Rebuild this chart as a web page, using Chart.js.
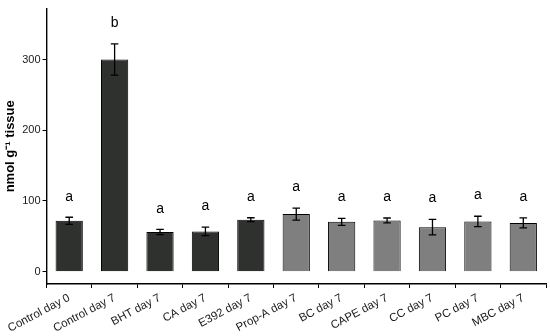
<!DOCTYPE html>
<html><head><meta charset="utf-8">
<script src="https://cdn.jsdelivr.net/npm/chart.js@4/dist/chart.umd.min.js"></script>
<style>html,body{margin:0;padding:0;background:#fff;}canvas{display:block;}</style>
</head><body>
<canvas id="c" width="550" height="336"></canvas>
<script>
const categories = ["Control day 0","Control day 7","BHT day 7","CA day 7","E392 day 7","Prop-A day 7","BC day 7","CAPE day 7","CC day 7","PC day 7","MBC day 7"];
const means = [72, 300, 56, 57, 73.5, 81.5, 70.5, 72.5, 63, 71, 69];
const errors = [5, 22, 3.7, 6, 2.8, 8.5, 5, 3.4, 11, 7.4, 7];
const letters = ["a","b","a","a","a","a","a","a","a","a","a"];
const letterPos = [106, 352, 89, 92, 106, 119, 105, 106, 104, 108, 106];
const groups = ["control","control","dark","dark","dark","light","light","light","light","light","light"];
const yTicks = [0, 100, 200, 300];

const groupColor = {control:"#2f312f", dark:"#2f312f", light:"#7f7f7f"};

const overlay = {
  id: "overlay",
  afterDatasetsDraw(chart) {
    const ctx = chart.ctx, x = chart.scales.x, y = chart.scales.y;
    ctx.save();
    ctx.strokeStyle = "#000"; ctx.lineWidth = 1.3;
    means.forEach((m, i) => {
      const px = x.getPixelForValue(i);
      const t = y.getPixelForValue(m + errors[i]), b = y.getPixelForValue(m - errors[i]);
      ctx.beginPath();
      ctx.moveTo(px, t); ctx.lineTo(px, b);
      ctx.moveTo(px - 3.8, t); ctx.lineTo(px + 3.8, t);
      ctx.moveTo(px - 3.8, b); ctx.lineTo(px + 3.8, b);
      ctx.stroke();
    });
    ctx.fillStyle = "#000";
    ctx.font = "14px 'Liberation Sans', Arial, sans-serif";
    ctx.textAlign = "center"; ctx.textBaseline = "middle";
    letters.forEach((l, i) => {
      ctx.fillText(l, x.getPixelForValue(i), y.getPixelForValue(letterPos[i]));
    });
    ctx.restore();
  }
};

new Chart(document.getElementById("c"), {
  type: "bar",
  data: {
    labels: categories,
    datasets: [{
      data: means,
      backgroundColor: groups.map(g => groupColor[g]),
      borderColor: "#000",
      borderWidth: 1,
      categoryPercentage: 0.6,
      barPercentage: 1.0
    }]
  },
  options: {
    responsive: false,
    animation: false,
    devicePixelRatio: 1,
    layout: {padding: {top: 4, right: 4, left: 0, bottom: 0}},
    plugins: {legend: {display: false}, tooltip: {enabled: false}},
    scales: {
      x: {
        offset: true,
        grid: {display: true, drawOnChartArea: false, drawTicks: true, tickLength: 4, color: "#000", lineWidth: 1},
        border: {display: true, color: "#000", width: 1.4},
        ticks: {color: "#1a1a1a", font: {family: "'Liberation Sans', Arial, sans-serif", size: 11.5}, maxRotation: 28, minRotation: 28, padding: 3, autoSkip: false},
        afterFit(s) { s.height = 52; }
      },
      y: {
        min: -17.4, max: 372,
        afterBuildTicks(s) { s.ticks = yTicks.map(v => ({value: v})); },
        grid: {display: true, drawOnChartArea: false, drawTicks: true, tickLength: 4, color: "#000", lineWidth: 1},
        border: {display: true, color: "#000", width: 1.4},
        ticks: {color: "#1a1a1a", font: {family: "'Liberation Sans', Arial, sans-serif", size: 11}, padding: 2},
        title: {display: true, text: "nmol g\u207B\u00B9 tissue", color: "#000", font: {family: "'Liberation Sans', Arial, sans-serif", size: 13, weight: "bold"}, padding: {top: 3, bottom: 0}},
        afterFit(s) { s.width = 46.5; }
      }
    }
  },
  plugins: [overlay]
});
</script>
</body></html>
